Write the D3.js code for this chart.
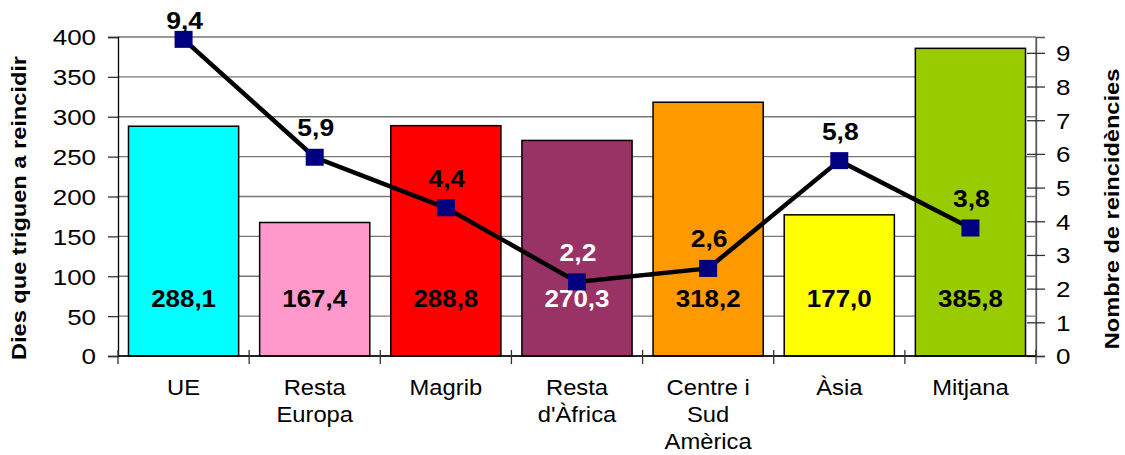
<!DOCTYPE html>
<html>
<head>
<meta charset="utf-8">
<script src="https://cdn.jsdelivr.net/npm/d3@7"></script>
<style>
  body { margin: 0; background: #fff; }
  svg { font-family: "Liberation Sans", Arial, sans-serif; }
</style>
</head>
<body>
<div id="chart"></div>
<script>
var categories = ["UE", "Resta Europa", "Magrib", "Resta d'Àfrica", "Centre i Sud Amèrica", "Àsia", "Mitjana"];
var categoryLines = [["UE"], ["Resta", "Europa"], ["Magrib"], ["Resta", "d'Àfrica"], ["Centre i", "Sud", "Amèrica"], ["Àsia"], ["Mitjana"]];
var dies = [288.1, 167.4, 288.8, 270.3, 318.2, 177.0, 385.8];
var reincidencies = [9.4, 5.9, 4.4, 2.2, 2.6, 5.8, 3.8];
var barColors = ["#00ffff", "#ff99cc", "#ff0000", "#993366", "#ff9900", "#ffff00", "#99cc00"];
var labelColors = ["#000", "#000", "#000", "#fff", "#000", "#000", "#000"];
var leftTicks = [0, 50, 100, 150, 200, 250, 300, 350, 400];
var rightTicks = [0, 1, 2, 3, 4, 5, 6, 7, 8, 9];

var width = 1125, height = 455;
var margin = {top: 37, right: 89, bottom: 99, left: 118};
var w = width - margin.left - margin.right;
var h = height - margin.top - margin.bottom;

// the original text is a little wider than Arial, so stretch it sideways
function stretch(sel, s) {
  sel.each(function() {
    var t = d3.select(this);
    var tx = +t.attr("x") || 0, ty = +t.attr("y") || 0;
    t.attr("x", 0).attr("y", 0)
      .attr("transform", "translate(" + tx + "," + ty + ") scale(" + s + ",1)");
  });
}

var svg = d3.select("#chart").append("svg")
  .attr("width", width)
  .attr("height", height);

var g = svg.append("g").attr("transform", "translate(" + margin.left + "," + margin.top + ")");

var x = d3.scaleBand().domain(categories).range([0, w]).paddingInner(0.16).paddingOuter(0.08);
var xb = d3.scaleBand().domain(categories).range([0, w]);
var y = d3.scaleLinear().domain([0, 400]).range([h, 0]);
var y2 = d3.scaleLinear().domain([0, 9.47]).range([h, 0]);

// gridlines
g.selectAll(".grid")
  .data(leftTicks)
  .enter()
  .append("line")
    .attr("x1", 0)
    .attr("x2", w)
    .attr("y1", function(d) { return y(d); })
    .attr("y2", function(d) { return y(d); })
    .attr("stroke", "#777")
    .attr("stroke-width", 1.3);

// plot border right
g.append("line")
  .attr("x1", w).attr("x2", w)
  .attr("y1", 0).attr("y2", h)
  .attr("stroke", "#777").attr("stroke-width", 1.3);

// bars
g.selectAll(".bar")
  .data(dies)
  .enter()
  .append("rect")
    .attr("x", function(d, i) { return x(categories[i]); })
    .attr("width", x.bandwidth())
    .attr("y", function(d) { return y(d); })
    .attr("height", function(d) { return h - y(d); })
    .attr("fill", function(d, i) { return barColors[i]; })
    .attr("stroke", "#000")
    .attr("stroke-width", 1.5);

// left axis
var yAxis = g.append("g")
  .call(d3.axisLeft(y).tickValues(leftTicks).tickSize(10).tickPadding(12));
yAxis.select(".domain").attr("stroke", "#000").attr("stroke-width", 1.3);
yAxis.selectAll(".tick line").attr("stroke", "#333").attr("stroke-width", 1.3);
yAxis.selectAll("text").attr("font-size", 22).attr("fill", "#000").attr("dy", "0.36em")
  .attr("font-family", "Liberation Sans, Arial, sans-serif");
stretch(yAxis.selectAll("text"), 1.18);

// right axis
var y2Axis = g.append("g")
  .attr("transform", "translate(" + w + ",0)")
  .call(d3.axisRight(y2).tickValues(rightTicks).tickSize(9).tickPadding(11));
y2Axis.select(".domain").attr("stroke", "#555").attr("stroke-width", 1.3);
y2Axis.selectAll(".tick line").attr("x1", -9).attr("stroke", "#333").attr("stroke-width", 1.3);
y2Axis.selectAll("text").attr("font-size", 22).attr("fill", "#000").attr("dy", "0.36em")
  .attr("font-family", "Liberation Sans, Arial, sans-serif");
stretch(y2Axis.selectAll("text"), 1.18);

// bottom axis
g.append("line")
  .attr("x1", 0).attr("x2", w)
  .attr("y1", h).attr("y2", h)
  .attr("stroke", "#000").attr("stroke-width", 1.3);
g.selectAll(".xtick")
  .data(categories.concat(["end"]))
  .enter()
  .append("line")
    .attr("x1", function(d, i) { return i * xb.bandwidth(); })
    .attr("x2", function(d, i) { return i * xb.bandwidth(); })
    .attr("y1", h - 6)
    .attr("y2", h + 8)
    .attr("stroke", "#333")
    .attr("stroke-width", 1.3);

// category labels
var catText = g.selectAll(".cat")
  .data(categoryLines)
  .enter()
  .append("text")
    .attr("text-anchor", "middle")
    .attr("font-size", 22)
    .attr("fill", "#000")
    .attr("transform", function(d, i) {
      return "translate(" + (xb(categories[i]) + xb.bandwidth() / 2) + "," + (h + 39) + ") scale(1.08,1)";
    });
catText.selectAll("tspan")
  .data(function(d) { return d; })
  .enter()
  .append("tspan")
    .attr("x", 0)
    .attr("dy", function(d, i) { return i == 0 ? 0 : 27; })
    .text(function(d) { return d; });

// bar value labels
var barLabels = g.selectAll(".barlabel")
  .data(dies)
  .enter()
  .append("text")
    .attr("x", function(d, i) { return xb(categories[i]) + xb.bandwidth() / 2; })
    .attr("y", h - 49)
    .attr("text-anchor", "middle")
    .attr("font-size", 24)
    .attr("font-weight", "bold")
    .attr("fill", function(d, i) { return labelColors[i]; })
    .text(function(d) { return d.toFixed(1).replace(".", ","); });
stretch(barLabels, 1.08);

// line
var line = d3.line()
  .x(function(d, i) { return xb(categories[i]) + xb.bandwidth() / 2; })
  .y(function(d) { return y2(d); });

g.append("path")
  .datum(reincidencies)
  .attr("d", line)
  .attr("fill", "none")
  .attr("stroke", "#000")
  .attr("stroke-width", 4.5);

g.selectAll(".marker")
  .data(reincidencies)
  .enter()
  .append("rect")
    .attr("x", function(d, i) { return xb(categories[i]) + xb.bandwidth() / 2 - 9; })
    .attr("y", function(d) { return y2(d) - 8.5; })
    .attr("width", 18)
    .attr("height", 17)
    .attr("fill", "#000080");

var lineLabels = g.selectAll(".linelabel")
  .data(reincidencies)
  .enter()
  .append("text")
    .attr("x", function(d, i) { return xb(categories[i]) + xb.bandwidth() / 2 + 1; })
    .attr("y", function(d) { return Math.max(y2(d) - 21, -8); })
    .attr("text-anchor", "middle")
    .attr("font-size", 23)
    .attr("font-weight", "bold")
    .attr("fill", function(d, i) { return labelColors[i]; })
    .text(function(d) { return d.toFixed(1).replace(".", ","); });
stretch(lineLabels, 1.15);

// axis titles
svg.append("text")
  .attr("transform", "translate(26,208) rotate(-90) scale(1.18,1)")
  .attr("text-anchor", "middle")
  .attr("font-size", 20)
  .attr("font-weight", "bold")
  .text("Dies que triguen a reincidir");

svg.append("text")
  .attr("transform", "translate(1119,209) rotate(-90) scale(1.18,1)")
  .attr("text-anchor", "middle")
  .attr("font-size", 20)
  .attr("font-weight", "bold")
  .text("Nombre de reincidències");
</script>
</body>
</html>
